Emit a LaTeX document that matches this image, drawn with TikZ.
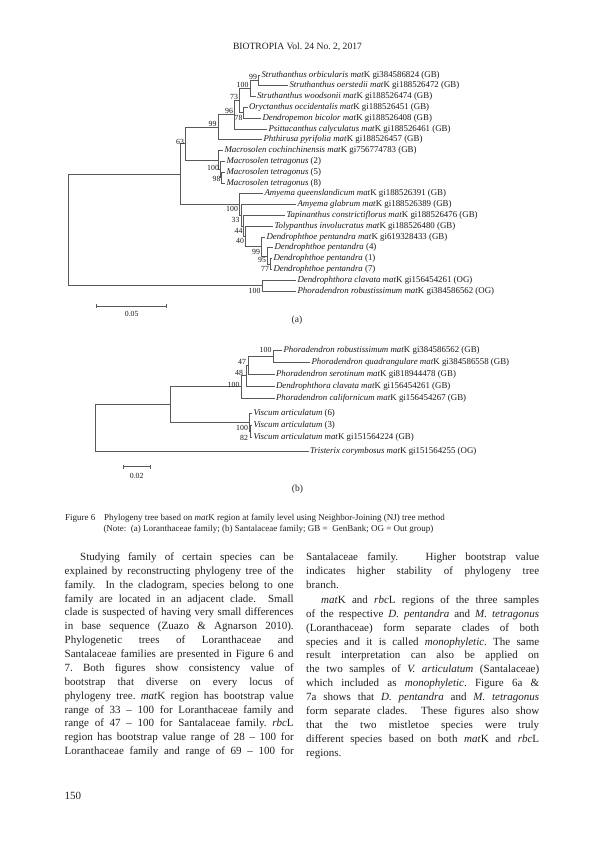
\documentclass[tikz,border=0pt]{standalone}
\usepackage{fontspec}
\setmainfont{Liberation Serif}
\begin{document}
\frenchspacing
\begin{tikzpicture}[x=1pt,y=-1pt,
  br/.style={draw=black!65, line width=0.75pt},
  leaf/.style={anchor=west, inner sep=1.3pt, font=\fontsize{8.85}{10}\selectfont, text=black!90, text height=6.2pt, text depth=2pt},
  bs/.style={anchor=east, inner sep=0.4pt, font=\fontsize{7.8}{9}\selectfont, text=black!90},
  sc/.style={inner sep=0pt, font=\fontsize{7.8}{9}\selectfont, text=black!90},
  pl/.style={inner sep=0pt, font=\fontsize{9.5}{11}\selectfont, text=black!88},
  body/.style={inner sep=0pt, anchor=north west, align=justify, text=black!87, font=\fontsize{11}{13.87}\selectfont},
  capt/.style={inner sep=0pt, anchor=base west, text=black!87, font=\fontsize{9}{11}\selectfont}]
\useasboundingbox (0,0) rectangle (595,842);
\fill[white] (0,0) rectangle (595,842);

% header
\node[inner sep=0pt, anchor=base, text=black!87, font=\fontsize{9.6}{11}\selectfont] (hdr) at (297.5,49.5) {BIOTROPIA Vol. 24 No. 2, 2017};

% ---------------- tree (a) leaves
\node[leaf] (a1) at (260,75.0) {\textit{Struthanthus orbicularis mat}K gi384586824 (GB)};
\node[leaf] (a2) at (288,85.8) {\textit{Struthanthus oerstedii mat}K gi188526472 (GB)};
\node[leaf] (a3) at (255.5,96.6) {\textit{Struthanthus woodsonii mat}K gi188526474 (GB)};
\node[leaf] (a4) at (247.5,107.4) {\textit{Oryctanthus occidentalis mat}K gi188526451 (GB)};
\node[leaf] (a5) at (261,118.2) {\textit{Dendropemon bicolor mat}K gi188526408 (GB)};
\node[leaf] (a6) at (267,129.0) {\textit{Psittacanthus calyculatus mat}K gi188526461 (GB)};
\node[leaf] (a7) at (262,139.8) {\textit{Phthirusa pyrifolia mat}K gi188526457 (GB)};
\node[leaf] (a8) at (223,150.6) {\textit{Macrosolen cochinchinensis mat}K gi756774783 (GB)};
\node[leaf] (a9) at (225,161.4) {\textit{Macrosolen tetragonus} (2)};
\node[leaf] (a10) at (225,172.2) {\textit{Macrosolen tetragonus} (5)};
\node[leaf] (a11) at (225,183.0) {\textit{Macrosolen tetragonus} (8)};
\node[leaf] (a12) at (263,193.8) {\textit{Amyema queenslandicum mat}K gi188526391 (GB)};
\node[leaf] (a13) at (296,204.6) {\textit{Amyema glabrum mat}K gi188526389 (GB)};
\node[leaf] (a14) at (285,215.4) {\textit{Tapinanthus constrictiflorus mat}K gi188526476 (GB)};
\node[leaf] (a15) at (273,226.2) {\textit{Tolypanthus involucratus mat}K gi188526480 (GB)};
\node[leaf] (a16) at (265,237.0) {\textit{Dendrophthoe pentandra mat}K gi619328433 (GB)};
\node[leaf] (a17) at (273,247.8) {\textit{Dendrophthoe pentandra} (4)};
\node[leaf] (a18) at (272,258.6) {\textit{Dendrophthoe pentandra} (1)};
\node[leaf] (a19) at (272,269.4) {\textit{Dendrophthoe pentandra} (7)};
\node[leaf] (a20) at (296,280.2) {\textit{Dendrophthora clavata mat}K gi156454261 (OG)};
\node[leaf] (a21) at (296,291.0) {\textit{Phoradendron robustissimum mat}K gi384586562 (OG)};

% tree (a) internal nodes
\coordinate (ca1) at (258.3,80.4);
\coordinate (ca2) at (250.7,88.5);
\coordinate (ca3) at (243.3,112.8);
\coordinate (ca4) at (239,100.65);
\coordinate (ca5) at (234.3,114.8);
\coordinate (ca6) at (218.3,127.3);
\coordinate (caU) at (221.7,177.6);
\coordinate (caT) at (220,169.5);
\coordinate (caM) at (218.3,160);
\coordinate (ca7) at (185.7,143.65);
\coordinate (caG) at (270.7,264);
\coordinate (caF) at (267.3,255.9);
\coordinate (caE) at (261.7,246.45);
\coordinate (caD) at (245.5,236.3);
\coordinate (caC) at (243.3,225.9);
\coordinate (caB) at (241,215.2);
\coordinate (caA) at (239,204.5);
\coordinate (caI) at (180,174.1);
\coordinate (caO) at (262,285.6);
\coordinate (caR) at (68.7,229.85);

\draw[br] (ca1) |- (a1.west); \draw[br] (ca1) |- (a2.west);
\draw[br] (ca2) |- (ca1); \draw[br] (ca2) |- (a3.west);
\draw[br] (ca3) |- (a4.west); \draw[br] (ca3) |- (a5.west);
\draw[br] (ca4) |- (ca2); \draw[br] (ca4) |- (ca3);
\draw[br] (ca5) |- (ca4); \draw[br] (ca5) |- (a6.west);
\draw[br] (ca6) |- (ca5); \draw[br] (ca6) |- (a7.west);
\draw[br] (caU) |- (a10.west); \draw[br] (caU) |- (a11.west);
\draw[br] (caT) |- (a9.west); \draw[br] (caT) |- (caU);
\draw[br] (caM) |- (a8.west); \draw[br] (caM) |- (caT);
\draw[br] (ca7) |- (ca6); \draw[br] (ca7) |- (caM);
\draw[br] (caG) |- (a18.west); \draw[br] (caG) |- (a19.west);
\draw[br] (caF) |- (a17.west); \draw[br] (caF) |- (caG);
\draw[br] (caE) |- (a16.west); \draw[br] (caE) |- (caF);
\draw[br] (caD) |- (a15.west); \draw[br] (caD) |- (caE);
\draw[br] (caC) |- (a14.west); \draw[br] (caC) |- (caD);
\draw[br] (caB) |- (a13.west); \draw[br] (caB) |- (caC);
\draw[br] (caA) |- (a12.west); \draw[br] (caA) |- (caB);
\draw[br] (caI) |- (ca7); \draw[br] (caI) |- (caA);
\draw[br] (caO) |- (a20.west); \draw[br] (caO) |- (a21.west);
\draw[br] (caR) |- (caI); \draw[br] (caR) |- (caO);

% bootstrap (a)
\node[bs] (ba1) at (257.5,76.7) {99};
\node[bs] (ba2) at (249,85) {100};
\node[bs] (ba3) at (243,117.5) {78};
\node[bs] (ba4) at (238.5,97.3) {73};
\node[bs] (ba5) at (233.5,111) {96};
\node[bs] (ba6) at (217,123.8) {99};
\node[bs] (baT) at (219.5,168.3) {100};
\node[bs] (baU) at (221,178.5) {98};
\node[bs] (ba7) at (184.5,142) {63};
\node[bs] (baA) at (238.5,209) {100};
\node[bs] (baB) at (240,220) {33};
\node[bs] (baC) at (243,230.7) {44};
\node[bs] (baD) at (244.5,241) {40};
\node[bs] (baE) at (260.5,251.5) {99};
\node[bs] (baF) at (266.5,259.5) {95};
\node[bs] (baG) at (269.5,268.5) {77};
\node[bs] (baO) at (261,290.5) {100};

% scale (a)
\coordinate (sa1) at (96.7,306); \coordinate (sa2) at (166.7,306);
\draw[br] (sa1) -- (sa2);
\draw[br] ([yshift=1.8pt]sa1) -- ([yshift=-1.8pt]sa1);
\draw[br] ([yshift=1.8pt]sa2) -- ([yshift=-1.8pt]sa2);
\node[sc] (sal) at (131.7,313.5) {0.05};
\node[pl] (pa) at (297,320.5) {(a)};

% ---------------- tree (b) leaves
\node[leaf] (b1) at (282,350) {\textit{Phoradendron robustissimum mat}K gi384586562 (GB)};
\node[leaf] (b2) at (310,362) {\textit{Phoradendron quadrangulare mat}K gi384586558 (GB)};
\node[leaf] (b3) at (274.5,374) {\textit{Phoradendron serotinum mat}K gi818944478 (GB)};
\node[leaf] (b4) at (274.5,386) {\textit{Dendrophthora clavata mat}K gi156454261 (GB)};
\node[leaf] (b5) at (274.5,398) {\textit{Phoradendron californicum mat}K gi156454267 (GB)};
\node[leaf] (b6) at (252,413.5) {\textit{Viscum articulatum} (6)};
\node[leaf] (b7) at (252,425.8) {\textit{Viscum articulatum} (3)};
\node[leaf] (b8) at (252,437.8) {\textit{Viscum articulatum mat}K gi151564224 (GB)};
\node[leaf] (b9) at (308.5,451.5) {\textit{Tristerix corymbosus mat}K gi151564255 (OG)};

\coordinate (cbR) at (273.3,356);
\coordinate (cbS) at (248.3,365);
\coordinate (cbQ) at (246,375.5);
\coordinate (cbP) at (241,386.75);
\coordinate (cbW) at (250.5,431.8);
\coordinate (cbV) at (249.3,422.65);
\coordinate (cbI) at (170,404.7);
\coordinate (cbT) at (95,428.1);

\draw[br] (cbR) |- (b1.west); \draw[br] (cbR) |- (b2.west);
\draw[br] (cbS) |- (cbR); \draw[br] (cbS) |- (b3.west);
\draw[br] (cbQ) |- (cbS); \draw[br] (cbQ) |- (b4.west);
\draw[br] (cbP) |- (cbQ); \draw[br] (cbP) |- (b5.west);
\draw[br] (cbW) |- (b7.west); \draw[br] (cbW) |- (b8.west);
\draw[br] (cbV) |- (b6.west); \draw[br] (cbV) |- (cbW);
\draw[br] (cbI) |- (cbP); \draw[br] (cbI) |- (cbV);
\draw[br] (cbT) |- (cbI); \draw[br] (cbT) |- (b9.west);

\node[bs] (bbR) at (272,350) {100};
\node[bs] (bbS) at (246.5,361.7) {47};
\node[bs] (bbQ) at (243.5,372.7) {48};
\node[bs] (bbP) at (240,385) {100};
\node[bs] (bbV) at (248.5,428.3) {100};
\node[bs] (bbW) at (248.5,437.7) {82};

\coordinate (sb1) at (123.3,466.7); \coordinate (sb2) at (150,466.7);
\draw[br] (sb1) -- (sb2);
\draw[br] ([yshift=1.8pt]sb1) -- ([yshift=-1.8pt]sb1);
\draw[br] ([yshift=1.8pt]sb2) -- ([yshift=-1.8pt]sb2);
\node[sc] (sbl) at (136.7,475.5) {0.02};
\node[pl] (pb) at (297.5,489.5) {(b)};

% ---------------- caption
\node[capt] (cap1) at (65,520) {Figure 6};
\node[capt] (cap2) at (104,520) {Phylogeny tree based on \textit{mat}K region at family level using Neighbor-Joining (NJ) tree method};
\node[capt] (cap3) at (103.3,531) {(Note:\ \ (a) Loranthaceae family; (b) Santalaceae family; GB =\ \ GenBank; OG = Out group)};

% ---------------- body text
\node[body, text width=229pt] (lcol) at (64.5,552.5) {\tolerance=10000\hbadness=10000\parfillskip=0pt\frenchspacing
\hspace*{15.5pt}Studying family of certain species can be\linebreak
explained by reconstructing phylogeny tree of the\linebreak
family.\ \ In the cladogram, species belong to one\linebreak
family are located in an adjacent clade.\ \ Small\linebreak
clade is suspected of having very small differences\linebreak
in base sequence (Zuazo \& Agnarson 2010).\linebreak
Phylogenetic trees of Loranthaceae and\linebreak
Santalaceae families are presented in Figure 6 and\linebreak
7. Both figures show consistency value of\linebreak
bootstrap that diverse on every locus of\linebreak
phylogeny tree. \textit{mat}K region has bootstrap value\linebreak
range of 33 -- 100 for Loranthaceae family and\linebreak
range of 47 -- 100 for Santalaceae family. \textit{rbc}L\linebreak
region has bootstrap value range of 28 -- 100 for\linebreak
Loranthaceae family and range of 69 -- 100 for\par};

\node[body, text width=233pt] (rcol) at (306,552.5) {\tolerance=10000\hbadness=10000\parskip=1.4pt\frenchspacing
Santalaceae family.\ \ \ Higher bootstrap value\linebreak
indicates higher stability of phylogeny tree\linebreak
branch.\par
\hspace*{15pt}\textit{mat}K and \textit{rbc}L regions of the three samples\linebreak
of the respective \textit{D. pentandra} and \textit{M. tetragonus}\linebreak
(Loranthaceae) form separate clades of both\linebreak
species and it is called \textit{monophyletic}. The same\linebreak
result interpretation can also be applied on\linebreak
the two samples of \textit{V. articulatum} (Santalaceae)\linebreak
which included as \textit{monophyletic}. Figure 6a \&\linebreak
7a shows that \textit{D. pentandra} and \textit{M. tetragonus}\linebreak
form separate clades.\ \ These figures also show\linebreak
that the two mistletoe species were truly\linebreak
different species based on both \textit{mat}K and \textit{rbc}L\linebreak
regions.\par};

\node[inner sep=0pt, anchor=base west, text=black!87, font=\fontsize{11}{13}\selectfont] (pgno) at (64.5,799) {150};
\end{tikzpicture}
\end{document}
